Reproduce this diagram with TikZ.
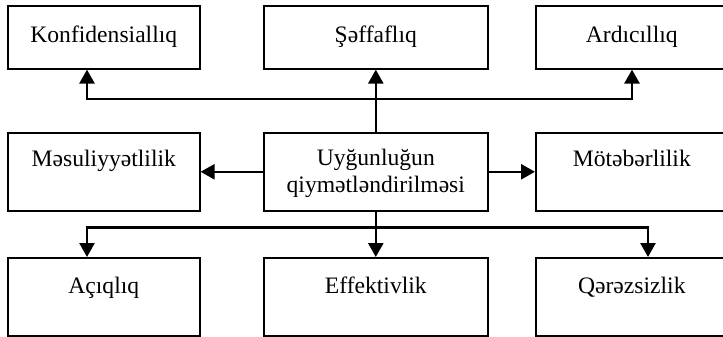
\documentclass[tikz,border=0pt]{standalone}
\usepackage{fontspec}
\setmainfont{Liberation Serif}
\usetikzlibrary{arrows.meta,calc}
\begin{document}
\begin{tikzpicture}[x=1pt,y=-1pt,
  box/.style={draw,line width=1.6pt,rectangle,inner sep=0pt,anchor=north west},
  lbl/.style={anchor=base,inner sep=0pt,font=\fontsize{23.6}{27}\selectfont},
  conn/.style={line width=2.6pt,line join=miter},
  arr/.style={conn,-{Triangle[width=15pt,length=14pt]}}]
\useasboundingbox (0,0) rectangle (723,337);
\clip (0,0) rectangle (723,337);
% top row
\node[box,minimum width=192pt,minimum height=63pt] (k) at (7,5) {};
\node[box,minimum width=224pt,minimum height=63pt] (s) at (263,5) {};
\node[box,minimum width=192pt,minimum height=63pt] (a) at (535,5) {};
% middle row
\node[box,minimum width=192pt,minimum height=78pt] (m) at (7,132) {};
\node[box,minimum width=224pt,minimum height=78pt] (c) at (263,132) {};
\node[box,minimum width=192pt,minimum height=78pt] (mt) at (535,132) {};
% bottom row
\node[box,minimum width=192pt,minimum height=78pt] (ac) at (7,257) {};
\node[box,minimum width=224pt,minimum height=78pt] (e) at (263,257) {};
\node[box,minimum width=192pt,minimum height=78pt] (q) at (535,257) {};
% labels
\node[lbl] (kt) at ($(k.north)+(0,38)$) {Konfidensiallıq};
\node[lbl] (st) at ($(s.north)+(0,38)$) {Şəffaflıq};
\node[lbl] (at) at ($(a.north)+(0,38)$) {Ardıcıllıq};
\node[lbl] (mtx) at ($(m.north)+(0,34)$) {Məsuliyyətlilik};
\node[lbl] (ct1) at ($(c.north)+(0,33)$) {Uyğunluğun};
\node[lbl] (ct2) at ($(c.north)+(0,60)$) {qiymətləndirilməsi};
\node[lbl] (mttx) at ($(mt.north)+(0,34)$) {Mötəbərlilik};
\node[lbl] (act) at ($(ac.north)+(0,36)$) {Açıqlıq};
\node[lbl] (et) at ($(e.north)+(0,36)$) {Effektivlik};
\node[lbl] (qt) at ($(q.north)+(0,36)$) {Qərəzsizlik};
% connector anchor points
\coordinate (kin) at ($(k.south west)+(80,0)$);
\coordinate (ain) at ($(a.south west)+(97,0)$);
\coordinate (acin) at ($(ac.north west)+(80,0)$);
\coordinate (qin) at ($(q.north west)+(113,0)$);
\coordinate (bustop) at ($(c.north)+(0,-33)$);
\coordinate (busbot) at ($(c.south)+(0,16)$);
% upward branches
\draw[arr] (c.north) -- (s.south);
\draw[arr] (bustop) -| (kin);
\draw[arr] (bustop) -| (ain);
% sideways branches
\draw[arr] (c.west) -- (m.east |- c.west);
\draw[arr] (c.east) -- (mt.west |- c.east);
% downward branches
\draw[arr] (c.south) -- (e.north);
\draw[arr] (busbot) -| (acin);
\draw[arr] (busbot) -| (qin);
\end{tikzpicture}
\end{document}
